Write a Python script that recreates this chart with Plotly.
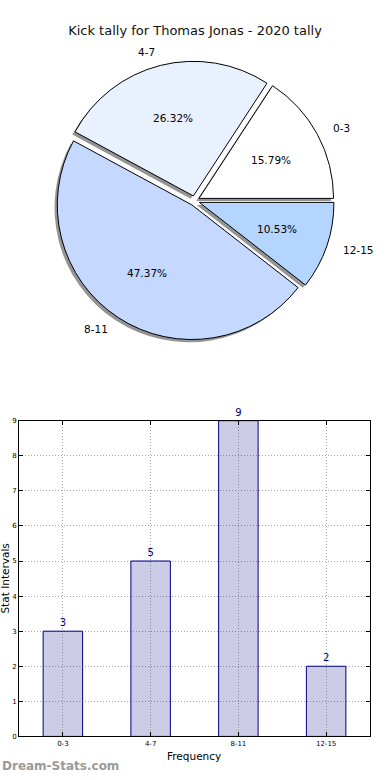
import math
import plotly.graph_objects as go

# ---------------- data ----------------
title_text = "Kick tally for Thomas Jonas - 2020 tally"
categories = ["0-3", "4-7", "8-11", "12-15"]
counts = [3, 5, 9, 2]
pie_colors = ["#FFFFFF", "#EAF1FE", "#C5D8FF", "#B3D5FF"]
y_ticks = [0, 1, 2, 3, 4, 5, 6, 7, 8, 9]
x_title = "Frequency"
y_title = "Stat Intervals"
watermark = "Dream-Stats.com"

FONT = "DejaVu Sans"
W, H = 390, 780

# ---------------- pie geometry (pixels, y from top) ----------------
cx, cy = 194.6, 198.8
R = 136.0
pull = 0.037
half = R * (1 + pull)

total = float(sum(counts))
# plotly (counterclockwise): first slice ends at the rotation point,
# so put that point at the end angle of the first slice (matplotlib startangle 0)
first_end_deg = 360.0 * counts[0] / total
rot = 90.0 - first_end_deg


def px2paper(x, y):
    return x / W, 1 - y / H


dom_x = [(cx - half) / W, (cx + half) / W]
dom_y = [(H - cy - half) / H, (H - cy + half) / H]

# shadow offset (matplotlib-like: left & down by 0.02 R)
sdx, sdy = -0.02 * R, 0.02 * R
sh_x = [dom_x[0] + sdx / W, dom_x[1] + sdx / W]
sh_y = [dom_y[0] - sdy / H, dom_y[1] - sdy / H]

fig = go.Figure()

fig.add_trace(go.Pie(
    labels=categories, values=counts, sort=False, direction="counterclockwise",
    rotation=rot, pull=[pull] * len(counts), textinfo="none", hoverinfo="skip",
    marker=dict(colors=["rgba(60,60,60,0.55)"] * len(counts), line=dict(width=0)),
    domain=dict(x=sh_x, y=sh_y), showlegend=False,
))

fig.add_trace(go.Pie(
    labels=categories, values=counts, sort=False, direction="counterclockwise",
    rotation=rot, pull=[pull] * len(counts), textinfo="none",
    marker=dict(colors=pie_colors, line=dict(color="black", width=1)),
    domain=dict(x=dom_x, y=dom_y), showlegend=False,
))

annotations = []
start = 0.0
for lab, v in zip(categories, counts):
    frac = v / total
    mid = math.radians(start + frac * 180.0)
    start += frac * 360.0
    ox = cx + pull * R * math.cos(mid)
    oy = cy - pull * R * math.sin(mid)
    # percentage inside
    px_, py_ = ox + 0.6 * R * math.cos(mid), oy - 0.6 * R * math.sin(mid)
    ax, ay = px2paper(px_, py_)
    annotations.append(dict(x=ax, y=ay, xref="paper", yref="paper", showarrow=False,
                            text=f"{100 * frac:.2f}%", xanchor="center", yanchor="middle",
                            font=dict(family=FONT, size=10.5, color="black")))
    # label outside
    lx, ly = ox + 1.1 * R * math.cos(mid), oy - 1.1 * R * math.sin(mid)
    bx, by = px2paper(lx, ly)
    annotations.append(dict(x=bx, y=by, xref="paper", yref="paper", showarrow=False,
                            text=lab, xanchor="left" if math.cos(mid) > 0 else "right",
                            yanchor="middle",
                            font=dict(family=FONT, size=10.5, color="black")))

# ---------------- bar chart ----------------
fig.add_trace(go.Bar(
    x=categories, y=counts, width=0.45,
    marker=dict(color="rgba(0,0,128,0.2)", line=dict(color="#000080", width=1)),
    text=[str(c) for c in counts], textposition="outside", cliponaxis=False,
    textfont=dict(family=FONT, size=10, color="#000080"),
    xaxis="x", yaxis="y", showlegend=False, hoverinfo="skip",
))

ax_common = dict(showline=True, linecolor="black", linewidth=1, mirror="ticks",
                 ticks="inside", ticklen=4, tickcolor="black", tickwidth=1,
                 showgrid=True, gridcolor="#a8a8a8", griddash="1px,2px", gridwidth=1,
                 zeroline=False, tickfont=dict(family=FONT, size=7, color="black"))

fig.update_layout(
    width=W, height=H, margin=dict(l=0, r=0, t=0, b=0),
    paper_bgcolor="white", plot_bgcolor="white",
    font=dict(family=FONT),
    title=dict(text=title_text, x=0.5, xanchor="center", y=1 - 30 / H, yanchor="middle",
               font=dict(family=FONT, size=13, color="#111111")),
    xaxis=dict(domain=[19 / W, 370 / W], range=[-0.5, 3.5], type="category",
               anchor="y", **ax_common),
    yaxis=dict(domain=[40 / H, 359 / H], range=[0, 9], tickvals=y_ticks,
               anchor="x", **ax_common),
)

annotations.append(dict(x=194 / W, y=1 - 760 / H, xref="paper", yref="paper", showarrow=False,
                        text=x_title, xanchor="center", yanchor="middle",
                        font=dict(family=FONT, size=10.5, color="black")))
annotations.append(dict(x=5.5 / W, y=1 - 581 / H, xref="paper", yref="paper", showarrow=False,
                        text=y_title, textangle=-90, xanchor="center", yanchor="middle",
                        font=dict(family=FONT, size=10.5, color="black")))
annotations.append(dict(x=0 / W, y=1 - 770 / H, xref="paper", yref="paper", showarrow=False,
                        text=f"<b>{watermark}</b>", xanchor="left", yanchor="middle",
                        font=dict(family=FONT, size=12, color="#9a9a9a")))

fig.update_layout(annotations=annotations)

fig.write_html("out.html", config={"displayModeBar": False},
               post_script="document.body.style.margin='0';")
